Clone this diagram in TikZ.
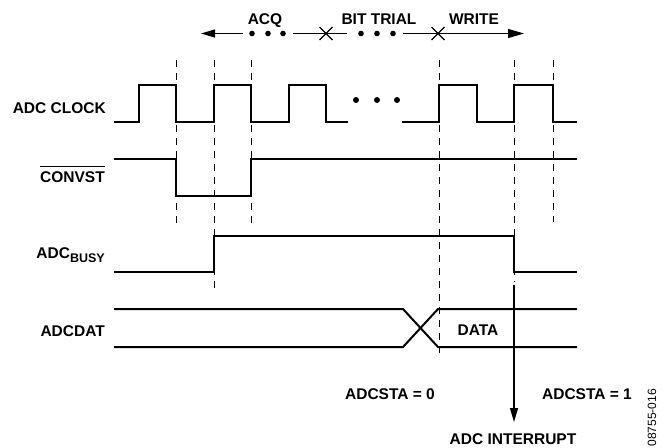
\documentclass[tikz,border=0pt]{standalone}
\usepackage{fontspec}
\setmainfont{Liberation Sans}
\usetikzlibrary{arrows.meta}
\begin{document}
\begin{tikzpicture}[x=1pt,y=-1pt,
  sig/.style={line width=2pt, line join=miter, line cap=butt},
  guide/.style={line width=1pt, dash pattern=on 7pt off 6pt},
  thinln/.style={line width=1.2pt},
  lbl/.style={inner sep=0pt, font=\fontsize{15.5}{18}\selectfont\bfseries},
  bigtip/.style={-{Triangle[length=14pt,width=8pt]}},
]
\useasboundingbox (0,0) rectangle (663,447);

% labels
\node[lbl, anchor=base east] (clk) at (106,113) {ADC CLOCK};
\node[lbl, anchor=base east] (cnv) at (105,182) {CONVST};
\draw[line width=1.3pt] ([yshift=4.5pt]cnv.north west) -- ([yshift=4.5pt]cnv.north east);
\node[lbl, anchor=base east] (busy) at (105,258) {ADC\raisebox{-4.5pt}{\fontsize{12.5}{13}\selectfont BUSY}};
\node[lbl, anchor=base east] (dat) at (105,336) {ADCDAT};
\node[lbl, anchor=base] (acq) at (265,24) {ACQ};
\node[lbl, anchor=base] (bit) at (379,24) {BIT TRIAL};
\node[lbl, anchor=base] (wr) at (474,24) {WRITE};
\node[lbl, anchor=base] (data) at (478,335) {DATA};
\node[lbl, anchor=base] (s0) at (390,399) {ADCSTA = 0};
\node[lbl, anchor=base] (s1) at (587,399) {ADCSTA = 1};
\node[lbl, anchor=base] (irq) at (513,444.5) {ADC INTERRUPT};
\node[inner sep=0pt, rotate=90, anchor=east, font=\fontsize{12}{14}\selectfont] (fig) at (652,389) {08755-016};

% header phase arrow
\draw[thinln, bigtip] (243,33.5) -- (201,33.5);
\foreach \x in {252,268,283,361,377,393} \fill (\x,33.5) circle (2.8);
\draw[thinln] (293,33.5) -- (347,33.5);
\draw[thinln] (319.5,27) -- (332.5,40) (319.5,40) -- (332.5,27);
\draw[thinln] (403,33.5) -- (438,33.5);
\draw[thinln] (431.5,27) -- (444.5,40) (431.5,40) -- (444.5,27);
\draw[thinln, -{Triangle[length=16pt,width=9pt]}] (438,33.5) -- (524,33.5);

% guide lines
\draw[guide] (176,60) -- (176,225);
\draw[guide] (214,60) -- (214,292);
\draw[guide] (251,60) -- (251,225);
\draw[guide] (439,60) -- (439,358);
\draw[guide] (514,60) -- (514,282);
\draw[guide] (553,60) -- (553,222);

% ADC clock
\draw[sig] (114,122) -- (139,122) -- (139,85) -- (176,85) -- (176,122) -- (214,122) -- (214,85) -- (251,85) -- (251,122) -- (289,122) -- (289,85) -- (326,85) -- (326,122) -- (348,122);
\draw[sig] (402,122) -- (439,122) -- (439,85) -- (477,85) -- (477,122) -- (514,122) -- (514,85) -- (553,85) -- (553,122) -- (577,122);
\foreach \x in {356,377,397} \fill (\x,100) circle (3);

% CONVST
\draw[sig] (114,159) -- (176,159) -- (176,196) -- (251,196) -- (251,159) -- (577,159);

% ADC BUSY
\draw[sig] (114,272) -- (214,272) -- (214,236) -- (514,236) -- (514,272) -- (577,272);

% ADCDAT
\draw[sig] (114,309) -- (403,309) -- (438,347) -- (577,347);
\draw[sig] (114,347) -- (403,347) -- (438,309) -- (577,309);

% interrupt arrow
\coordinate (busyfall) at (514,285);
\coordinate (irqtip) at (514,422);
\draw[thinln, bigtip] (busyfall) -- (irqtip);
\end{tikzpicture}
\end{document}
